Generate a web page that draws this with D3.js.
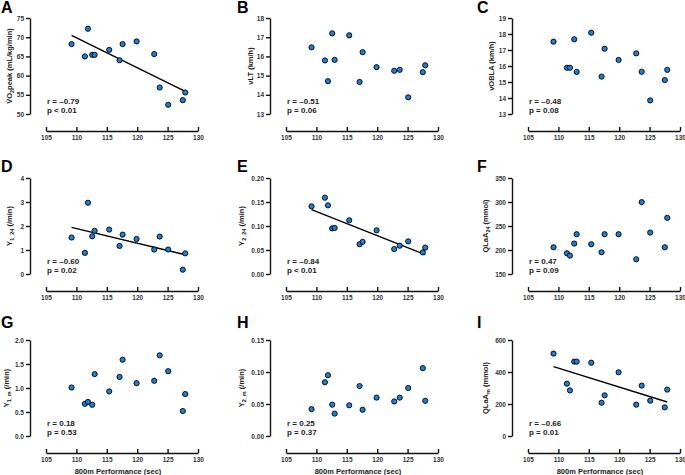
<!DOCTYPE html>
<html lang="en">
<head>
  <meta charset="UTF-8">
  <title>800m performance correlations</title>
  <style>
    html, body { margin: 0; background: #fff; }
    svg text { font-family: 'Liberation Sans', Arial, sans-serif; fill: #222; }
    .axis path, .axis line { stroke: #111; stroke-width: 1.4; }
    .axis text { font-size: 6.5px; font-weight: bold; fill: #333; }
  </style>
  <script src="https://cdn.jsdelivr.net/npm/d3@7"></script>
</head>
<body>
  <script>
    const width = 685
    const height = 475

    // 800m performance (sec), same athletes in every panel
    const perf = [109.2, 111.4, 111.9, 112.6, 113.0, 115.4, 117.1, 117.6, 119.9, 122.8, 123.7, 125.1, 127.5, 127.9]

    // y values per panel, in the order of perf
    const vo2peak = [68.2, 65.0, 72.2, 65.4, 65.4, 66.7, 64.0, 68.2, 68.9, 65.6, 56.9, 52.4, 53.6, 55.6]
    const vLT = [16.47, 15.79, 14.71, 17.2, 15.82, 17.1, 14.67, 16.22, 15.44, 15.25, 15.3, 13.87, 15.18, 15.54]
    const vOBLA = [17.52, 15.89, 15.89, 17.67, 15.63, 18.08, 15.34, 17.08, 16.38, 16.79, 15.64, 13.85, 15.12, 15.76]
    const gamma1_24 = [1.52, 0.88, 2.97, 1.57, 1.80, 1.85, 1.17, 1.64, 1.46, 1.02, 1.56, 1.02, 0.18, 0.86]
    const gamma2_24 = [0.141, 0.159, 0.143, 0.095, 0.096, 0.112, 0.062, 0.067, 0.091, 0.052, 0.059, 0.068, 0.045, 0.055]
    const qlaa24 = [205.7, 193.2, 188.3, 213.4, 232.9, 212, 195.3, 232.9, 232.9, 180.7, 299.8, 236.4, 205.7, 267]
    const gamma1_m = [1.01, 0.67, 0.71, 0.65, 1.29, 0.93, 1.23, 1.59, 1.10, 1.15, 1.68, 1.35, 0.52, 0.875]
    const gamma2_m = [0.042, 0.084, 0.095, 0.049, 0.035, 0.048, 0.078, 0.041, 0.060, 0.054, 0.060, 0.075, 0.106, 0.055]
    const qlaam = [515, 327, 285, 465, 465, 458, 208, 254, 398, 196, 315, 221, 179, 290]

    // tick labels
    const xTicks = [105, 110, 115, 120, 125, 130]
    const ticksA = [50, 55, 60, 65, 70, 75]
    const ticksB = [13, 14, 15, 16, 17, 18]
    const ticksC = [13, 14, 15, 16, 17, 18, 19]
    const ticksD = [0, 1, 2, 3, 4]
    const ticksE = [0, 0.05, 0.10, 0.15, 0.20]
    const ticksF = [150, 200, 250, 300, 350]
    const ticksG = [0, 0.5, 1.0, 1.5, 2.0]
    const ticksH = [0, 0.05, 0.10, 0.15]
    const ticksI = [0, 200, 400, 600]

    const letters = ['A', 'B', 'C', 'D', 'E', 'F', 'G', 'H', 'I']
    const rValues = ['r = –0.79', 'r = –0.51', 'r = –0.48', 'r = –0.60', 'r = –0.84', 'r = 0.47', 'r = 0.18', 'r = 0.25', 'r = –0.66']
    const pValues = ['p < 0.01', 'p = 0.06', 'p = 0.08', 'p = 0.02', 'p < 0.01', 'p = 0.09', 'p = 0.53', 'p = 0.37', 'p = 0.01']

    // label pieces: [text, isSub]
    const yLabels = [
      [['V\u0307O', 0], ['2', 1], ['peak (mL/kg/min)', 0]],
      [['vLT (km/h)', 0]],
      [['vOBLA (km/h)', 0]],
      [['Y', 0], ['1_24', 1], [' (/min)', 0]],
      [['Y', 0], ['2_24', 1], [' (/min)', 0]],
      [['QLaA', 0], ['24', 1], [' (mmol)', 0]],
      [['Y', 0], ['1_m', 1], [' (/min)', 0]],
      [['Y', 0], ['2_m', 1], [' (/min)', 0]],
      [['QLaA', 0], ['m', 1], [' (mmol)', 0]]
    ]

    const panels = [
      { values: vo2peak, ticks: ticksA, fmt: d3.format('d'), fit: true, titleOff: 18 },
      { values: vLT, ticks: ticksB, fmt: d3.format('d'), fit: false, titleOff: 17 },
      { values: vOBLA, ticks: ticksC, fmt: d3.format('d'), fit: false, titleOff: 18 },
      { values: gamma1_24, ticks: ticksD, fmt: d3.format('d'), fit: true, titleOff: 18 },
      { values: gamma2_24, ticks: ticksE, fmt: d3.format('.2f'), fit: true, titleOff: 26 },
      { values: qlaa24, ticks: ticksF, fmt: d3.format('d'), fit: false, titleOff: 24 },
      { values: gamma1_m, ticks: ticksG, fmt: d3.format('.1f'), fit: false, titleOff: 21 },
      { values: gamma2_m, ticks: ticksH, fmt: d3.format('.2f'), fit: false, titleOff: 26 },
      { values: qlaam, ticks: ticksI, fmt: d3.format('d'), fit: true, titleOff: 24 }
    ]

    // grid layout
    const colAxisX = [30, 270, 512]
    const rowTop = [18, 178, 340]
    const letterX = [1, 237, 477]
    const letterY = [13, 172, 328]
    const yLen = 96
    const xGap = 16
    const xLen = 152
    const xAxisOff = 113

    const svg = d3.select('body').append('svg')
      .attr('width', width)
      .attr('height', height)

    panels.forEach((p, i) => {
      const col = i % 3
      const row = Math.floor(i / 3)
      const ax = colAxisX[col]
      const top = rowTop[row]

      const x = d3.scaleLinear().domain([105, 130]).range([ax + xGap, ax + xGap + xLen])
      const y = d3.scaleLinear().domain(d3.extent(p.ticks)).range([top + yLen, top])

      const g = svg.append('g')

      // panel letter
      g.append('text')
        .attr('x', letterX[col])
        .attr('y', letterY[row])
        .style('font-size', '16px')
        .style('font-weight', 'bold')
        .style('fill', '#000')
        .text(letters[i])

      // y axis
      g.append('g')
        .attr('class', 'axis')
        .attr('transform', `translate(${ax}, 0)`)
        .call(d3.axisLeft(y).tickValues(p.ticks).tickFormat(p.fmt).tickSize(4).tickSizeOuter(0).tickPadding(2))

      // x axis, ticks pointing up
      g.append('g')
        .attr('class', 'axis')
        .attr('transform', `translate(0, ${top + xAxisOff})`)
        .call(d3.axisBottom(x).tickValues(xTicks).tickSize(-4).tickSizeOuter(0).tickPadding(4))

      // y axis title
      const yt = g.append('text')
        .attr('transform', `translate(${ax - p.titleOff}, ${top + yLen / 2}) rotate(-90)`)
        .attr('text-anchor', 'middle')
        .style('font-size', '7.5px')
        .style('font-weight', 'bold')
      yLabels[i].forEach(([t, sub]) => {
        yt.append('tspan')
          .attr('baseline-shift', sub ? '-30%' : null)
          .style('font-size', sub ? '5.5px' : null)
          .text(t)
      })

      // bottom row x title
      if (row === 2) {
        g.append('text')
          .attr('x', ax + xGap + 72)
          .attr('y', top + xAxisOff + 21)
          .attr('text-anchor', 'middle')
          .style('font-size', '7.5px')
          .style('font-weight', 'bold')
          .text('800m Performance (sec)')
      }

      // regression line
      if (p.fit) {
        const mx = d3.mean(perf)
        const my = d3.mean(p.values)
        const slope = d3.sum(perf, (v, k) => (v - mx) * (p.values[k] - my)) / d3.sum(perf, v => (v - mx) ** 2)
        const ends = d3.extent(perf)
        g.append('line')
          .attr('x1', x(ends[0]))
          .attr('y1', y(my + slope * (ends[0] - mx)))
          .attr('x2', x(ends[1]))
          .attr('y2', y(my + slope * (ends[1] - mx)))
          .attr('stroke', '#000')
          .attr('stroke-width', 1.4)
      }

      // points
      g.selectAll('circle')
        .data(p.values)
        .enter()
        .append('circle')
        .attr('cx', (d, k) => x(perf[k]))
        .attr('cy', d => y(d))
        .attr('r', 2.6)
        .attr('fill', '#1f7fd6')
        .attr('stroke', '#000')
        .attr('stroke-width', 0.9)

      // stats
      const st = g.append('g')
        .style('font-size', '8px')
        .style('font-weight', 'bold')
      st.append('text').attr('x', ax + xGap + 1).attr('y', top + 86).text(rValues[i])
      st.append('text').attr('x', ax + xGap + 1).attr('y', top + 95).text(pValues[i])
    })
  </script>
</body>
</html>
